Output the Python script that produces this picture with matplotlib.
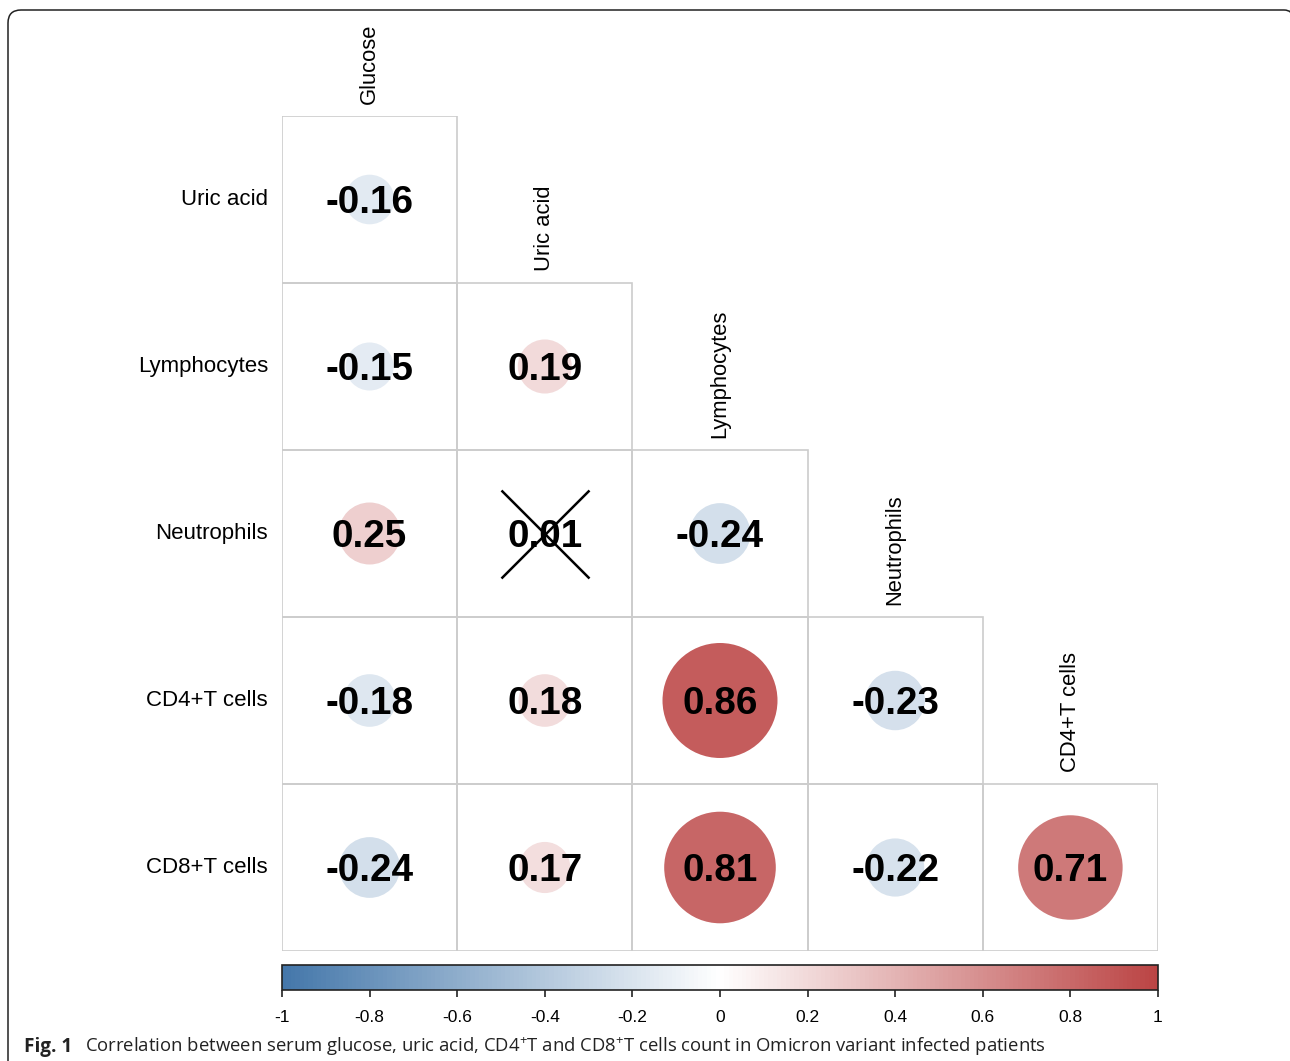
import numpy as np
import matplotlib
matplotlib.use("Agg")
import matplotlib.pyplot as plt
from matplotlib.colors import LinearSegmentedColormap, Normalize
from matplotlib.patches import Rectangle, PathPatch
from matplotlib.path import Path
import matplotlib.cm as cm

plt.rcParams['font.family'] = ['Liberation Sans', 'DejaVu Sans']
plt.rcParams['mathtext.fontset'] = 'custom'
plt.rcParams['mathtext.rm'] = 'Open Sans'
plt.rcParams['mathtext.it'] = 'Open Sans:italic'
plt.rcParams['mathtext.bf'] = 'Open Sans:bold'

# ---- data ----
row_labels = ["Uric acid", "Lymphocytes", "Neutrophils", "CD4+T cells", "CD8+T cells"]
col_labels = ["Glucose", "Uric acid", "Lymphocytes", "Neutrophils", "CD4+T cells"]
r_uric = [-0.16]
r_lymph = [-0.15, 0.19]
r_neut = [0.25, 0.01, -0.24]
r_cd4 = [-0.18, 0.18, 0.86, -0.23]
r_cd8 = [-0.24, 0.17, 0.81, -0.22, 0.71]
rows = [r_uric, r_lymph, r_neut, r_cd4, r_cd8]
insignificant = [(2, 1)]  # (row, col) crossed out
cbar_ticks = [-1, -0.8, -0.6, -0.4, -0.2, 0, 0.2, 0.4, 0.6, 0.8, 1]
cbar_ticklabels = ["-1", "-0.8", "-0.6", "-0.4", "-0.2", "0", "0.2", "0.4", "0.6", "0.8", "1"]
palette = ["#4477AA", "#FFFFFF", "#BB4444"]

W, H = 1290, 1061
fig = plt.figure(figsize=(W / 100, H / 100), dpi=100)

# outer rounded frame (pixel coords, y measured from top)
def P(x, y):
    return (x / W, 1 - y / H)

L, T, R, rad, rr = 8, 10, 1293, 13, 9
verts = [P(L, H + 20), P(L, T + rad), P(L, T), P(L + rad, T),
         P(R - rr, T), P(R, T), P(R, T + rr), P(R, H + 20)]
codes = [Path.MOVETO, Path.LINETO, Path.CURVE3, Path.CURVE3,
         Path.LINETO, Path.CURVE3, Path.CURVE3, Path.LINETO]
fig.patches.append(PathPatch(Path(verts, codes), transform=fig.transFigure,
                             fill=False, ec="#222222", lw=1.1))

cmap = LinearSegmentedColormap.from_list("corr", palette, N=200)
norm = Normalize(-1, 1)

gl, gr, gt, gb = 282, 1158, 116, 951
ax = fig.add_axes([gl / W, (H - gb) / H, (gr - gl) / W, (gb - gt) / H])
ax.set_xlim(0, 5)
ax.set_ylim(5, 0)
ax.axis("off")

full_d_pt = 124 * 0.72  # circle diameter for |r| = 1, in points

for i, vals in enumerate(rows):
    for j, v in enumerate(vals):
        ax.add_patch(Rectangle((j, i), 1, 1, fill=False, ec="#CCCCCC", lw=1.2, zorder=1))
        ax.scatter([j + 0.5], [i + 0.5], s=(full_d_pt ** 2) * abs(v), c=[cmap(norm(v))],
                   edgecolors="none", zorder=2)
        ax.annotate(f"{v:.2f}", xy=(j + 0.5, i + 0.5), xytext=(0, -2.5),
                    textcoords="offset points", ha="center", va="center",
                    fontsize=27.8, fontweight="bold", color="black", zorder=3)
        if (i, j) in insignificant:
            ax.plot([j + 0.5], [i + 0.5], marker="x", markersize=64, mew=1.8,
                    color="black", zorder=4)

for i, lab in enumerate(row_labels):
    ax.annotate(lab, xy=(0, i + 0.5), xytext=(-10, 0), textcoords="offset points",
                ha="right", va="center", fontsize=16, color="black")
for j, lab in enumerate(col_labels):
    ax.annotate(lab, xy=(j + 0.5, j), xytext=(0, 8.5), textcoords="offset points",
                ha="center", va="bottom", rotation=90, fontsize=15.8, color="black")

# colorbar
cax = fig.add_axes([gl / W, (H - 990) / H, (gr - gl) / W, 25 / H])
sm = cm.ScalarMappable(norm=norm, cmap=cmap)
cb = fig.colorbar(sm, cax=cax, orientation="horizontal", ticks=cbar_ticks)
cb.set_ticklabels(cbar_ticklabels)
cb.outline.set_linewidth(1.2)
cb.outline.set_edgecolor("#222222")
cax.tick_params(axis="x", direction="out", length=5, width=1.2, pad=9.5,
                labelsize=12.5, colors="#222222")
for t in cax.get_xticklabels():
    t.set_color("black")

# caption
fig.text(24 / W, (H - 1052) / H, "Fig. 1", fontfamily="Open Sans", fontweight="bold",
         fontsize=13.6, color="#222222", va="baseline")
fig.text(85 / W, (H - 1052) / H,
         "Correlation between serum glucose, uric acid, CD4$^{+}$T and CD8$^{+}$T cells count in Omicron variant infected patients",
         fontfamily="Open Sans", fontsize=13.3, color="#222222", va="baseline")

fig.savefig("out.png", dpi=100)
